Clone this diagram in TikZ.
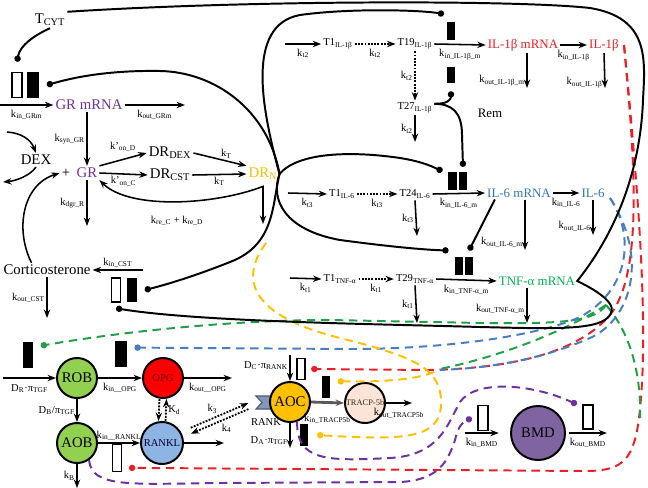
\documentclass[tikz,border=0pt]{standalone}
\usepackage{fontspec}
\setmainfont{Liberation Serif}
\usetikzlibrary{arrows,arrows.meta,calc,positioning}

\definecolor{grpurple}{RGB}{112,48,160}
\definecolor{drgold}{RGB}{246,190,0}
\definecolor{ilred}{RGB}{235,30,35}
\definecolor{ilblue}{RGB}{46,117,182}
\definecolor{tnfgreen}{RGB}{0,176,80}
\definecolor{obgreen}{RGB}{146,208,80}
\definecolor{opgred}{RGB}{250,0,0}
\definecolor{ranklblue}{RGB}{141,180,226}
\definecolor{aocgold}{RGB}{255,192,0}
\definecolor{trappeach}{RGB}{252,228,214}
\definecolor{bmdpurple}{RGB}{128,100,162}
\definecolor{rankgrey}{RGB}{132,151,186}
\definecolor{dashgreen}{RGB}{30,160,70}
\definecolor{dashblue}{RGB}{70,125,195}

\newcommand{\sbs}[1]{\textsubscript{#1}}
\newcommand{\bigf}{\fontsize{10.5}{12}\selectfont}
\newcommand{\midf}{\fontsize{9.2}{11}\selectfont}
\newcommand{\ratef}{\fontsize{7.5}{9}\selectfont}
\newcommand{\tinyf}{\fontsize{6}{7}\selectfont}

\begin{document}
\begin{tikzpicture}[x=0.025cm,y=-0.025cm,>={Stealth[length=6pt,width=4.5pt]},line width=1.1pt,
    big/.style={font=\bigf,inner sep=1pt},
    mid/.style={font=\midf,inner sep=1pt},
    rate/.style={font=\ratef,inner sep=1pt},
    cell/.style={circle,draw,line width=1.4pt,minimum size=1cm,inner sep=0pt,font=\bigf},
    wbox/.style={draw,line width=1pt,fill=white,minimum width=6pt,minimum height=18pt,inner sep=0pt},
    bbox/.style={fill=black,minimum width=8pt,minimum height=18pt,inner sep=0pt},
    inh/.style={line width=1.4pt,-{Circle[length=4.5pt]}},
    infl/.style={line width=1.4pt,dash pattern=on 6pt off 4pt,-{Circle[length=4.5pt]}},
    link/.style={line width=1.4pt,dash pattern=on 6pt off 4pt},
    dots/.style={->,densely dotted,line width=1.3pt}]
\useasboundingbox (0,0) rectangle (648,487);

% glucocorticoid part
\node[big] (tcyt) at (50,20) {T\sbs{CYT}};
\node[wbox,minimum width=7pt] (grmW) at (17,85) {};
\node[bbox,minimum width=8.5pt] (grmB) at (33,85) {};
\node[big,text=grpurple] (grm) at (89,105) {GR mRNA};
\node[big] (dex) at (36,160) {DEX};
\node[big] (plus) at (66,173) {+};
\node[big,text=grpurple] (gr) at (87,173) {GR};
\node[big] (drdex) at (170,153) {DR\sbs{DEX}};
\node[big] (drcst) at (170,175) {DR\sbs{CST}};
\node[big,text=drgold] (drn) at (263,174) {DR\sbs{N}};
\node[big] (cst) at (47,270) {Corticosterone};
\node[wbox,minimum width=6pt,minimum height=17pt] (cstW) at (116,290) {};
\node[bbox,minimum width=7pt,minimum height=17pt] (cstB) at (132,290) {};

\coordinate (grm_in) at (0,105);
\coordinate (grm_out) at (185,105);
\coordinate (gr_out) at (87,226);
\coordinate (drn_out) at (263,224);
\coordinate (dex_in) at (7,132);
\coordinate (dex_out) at (3,182);
\coordinate (cst_in) at (143,270);
\coordinate (cst_out) at (47,318);

\draw[->] (grm_in) -- node[rate,below=2pt] (l1) {k\sbs{in\_GRm}} (grm.west);
\draw[->] (grm.east) -- node[rate,below=2pt] (l2) {k\sbs{out\_GRm}} (grm_out);
\draw[->] (gr.north |- grm.south) -- node[rate,left] (l3) {k\sbs{syn\_GR}} (gr.north);
\draw[->] (gr.north east) -- node[rate,above=4pt] (l4) {k’\sbs{on\_D}} (drdex.west);
\draw[->] (gr.east) -- node[rate,below] (l5) {k’\sbs{on\_C}} (drcst.west);
\draw[->] (drdex.east) -- node[rate,above right=-1pt] (l6) {k\sbs{T}} (drn.north west);
\draw[->] (drcst.east) -- node[rate,below] (l7) {k\sbs{T}} (drn.west);
\draw[->] (gr.south) -- node[rate,left] (l8) {k\sbs{dgr\_R}} (gr_out);
\draw[<->] (gr.south east) .. controls (130,210) and (215,205) .. ([yshift=-3pt]drn.south) -- (drn_out);
\node[rate] (l9) at (177,221) {k\sbs{re\_C} + k\sbs{re\_D}};
\draw[->] (dex_in) .. controls (22,133) and (31,140) .. (dex.north);
\draw[->] (dex.south) .. controls (30,176) and (15,181) .. (dex_out);
\draw[->] ([xshift=-11pt]cst.north) .. controls (15,230) and (22,185) .. (plus.west);
\draw[->] (cst_in) -- node[rate,above] (l10) {k\sbs{in\_CST}} (cst.east);
\draw[->] (cst.south) -- node[rate,left] (l11) {k\sbs{out\_CST}} (cst_out);

% IL-1beta
\node[rate] (t1a) at (338,44) {T1\sbs{IL-1β}};
\node[rate] (t19) at (415,44) {T19\sbs{IL-1β}};
\node[rate] (t27) at (415,108) {T27\sbs{IL-1β}};
\node[mid,text=ilred] (il1m) at (523,45) {IL-1β mRNA};
\node[mid,text=ilred] (il1) at (604,45) {IL-1β};
\node[bbox,minimum width=5pt,minimum height=13pt] (il1U) at (451,31) {};
\node[bbox,minimum width=5pt,minimum height=12pt] (il1D) at (451,75) {};
\node[mid] (rem) at (490,113) {Rem};
\coordinate (il1_in) at (285,44);
\coordinate (t27_out) at (415,142);
\coordinate (il1m_out) at (527,88);
\coordinate (il1_out) at (605,88);

\draw[->] (il1_in) -- node[rate,below=2pt] (l12) {k\sbs{t2}} (t1a.west);
\draw[dots] (t1a.east) -- node[rate,below=2pt] (l13) {k\sbs{t2}} (t19.west);
\draw[->] (t19.east) -- node[rate,below=2pt] (l14) {k\sbs{in\_IL-1β\_m}} (il1m.west);
\draw[dots] (t19.south) -- node[rate,left] (l15) {k\sbs{t2}} (t27.north);
\draw[->] (t27.south) -- node[rate,left] (l16) {k\sbs{t2}} (t27_out);
\draw[->] (il1m.east) -- node[rate,below=2pt] (l17) {k\sbs{in\_IL-1β}} (il1.west);
\draw[->] (il1m.south -| il1m_out) -- node[rate,left,pos=0.8] (l18) {k\sbs{out\_IL-1β\_m}} (il1m_out);
\draw[->] (il1.south) -- node[rate,left,pos=0.85] (l19) {k\sbs{out\_IL-1β}} (il1_out);

% IL-6
\node[rate] (t1b) at (342,194) {T1\sbs{IL-6}};
\node[rate] (t24) at (415,194) {T24\sbs{IL-6}};
\node[mid,text=ilblue] (il6m) at (519,193) {IL-6 mRNA};
\node[mid,text=ilblue] (il6) at (593,193) {IL-6};
\node[bbox,minimum width=6.4pt,minimum height=13pt] (il6A) at (452,181) {};
\node[bbox,minimum width=6pt,minimum height=13pt] (il6B) at (463,181) {};
\coordinate (il6_in) at (288,193);
\coordinate (t24_out) at (417,236);
\coordinate (il6m_out) at (525,250);
\coordinate (il6_out) at (593,235);

\draw[->] (il6_in) -- node[rate,below=2pt] (l20) {k\sbs{t3}} (t1b.west);
\draw[dots] (t1b.east) -- node[rate,below=2pt] (l21) {k\sbs{t3}} (t24.west);
\draw[->] (t24.east) -- node[rate,below=2pt] (l22) {k\sbs{in\_IL-6\_m}} (il6m.west);
\draw[->] (t24.south) -- node[rate,left] (l23) {k\sbs{t3}} (t24_out);
\draw[->] (il6m.east) -- node[rate,below=2pt] (l24) {k\sbs{in\_IL-6}} (il6.west);
\draw[->] (il6m.south -| il6m_out) -- node[rate,left,pos=0.85] (l25) {k\sbs{out\_IL-6\_m}} (il6m_out);
\draw[->] (il6.south) -- node[rate,left,pos=0.75] (l26) {k\sbs{out\_IL-6}} (il6_out);

% TNF-alpha
\node[rate] (t1c) at (340,279) {T1\sbs{TNF-α}};
\node[rate] (t29) at (415,279) {T29\sbs{TNF-α}};
\node[mid,text=tnfgreen] (tnfm) at (537,281) {TNF-α mRNA};
\node[bbox,minimum width=5.7pt,minimum height=13pt] (tnfA) at (459,266) {};
\node[bbox,minimum width=5.7pt,minimum height=13pt] (tnfB) at (469,266) {};
\coordinate (tnf_in) at (290,278);
\coordinate (t29_out) at (417,323);
\coordinate (tnfm_out) at (527,323);

\draw[->] (tnf_in) -- node[rate,below=2pt] (l27) {k\sbs{t1}} (t1c.west);
\draw[dots] (t1c.east) -- node[rate,below=2pt] (l28) {k\sbs{t1}} (t29.west);
\draw[->] (t29.east) -- node[rate,below=2pt] (l29) {k\sbs{in\_TNF-α\_m}} (tnfm.west);
\draw[->] (t29.south) -- node[rate,left] (l30) {k\sbs{t1}} (t29_out);
\draw[->] (tnfm.south -| tnfm_out) -- node[rate,left,pos=0.6] (l31) {k\sbs{out\_TNF-α\_m}} (tnfm_out);

% bone part
\coordinate (rank) at (258,402);
\draw[fill=rankgrey,draw=rankgrey!60!black,line width=0.8pt] (256,396) -- (273,396) -- (273,409) -- (256,409) -- (262,402.5) -- cycle;
\node[cell,fill=obgreen] (rob) at (77,378) {ROB};
\node[cell,fill=opgred,text=black!55!red,font=\ratef] (opg) at (163,378) {OPG};
\node[cell,fill=obgreen] (aob) at (77,443) {AOB};
\node[cell,fill=ranklblue,text=black!80!blue,font=\ratef,minimum size=1.05cm] (rankl) at (162,443) {RANKL};
\node[cell,fill=aocgold] (aoc) at (290,402) {AOC};
\node[cell,fill=trappeach,text=black!70!brown,font=\tinyf] (trap) at (365,403) {TRACP-5b};
\node[cell,fill=bmdpurple,minimum size=1.35cm] (bmd) at (538,433) {BMD};
\node[rate] (ranklbl) at (266,422) {RANK};

\node[bbox,minimum width=7pt,minimum height=18pt] (robB) at (28,355) {};
\node[bbox,minimum width=8pt,minimum height=18pt] (opgB) at (121,354) {};
\node[wbox,minimum width=6pt,minimum height=19pt] (ranklW) at (117,458) {};
\node[wbox,minimum width=5.5pt,minimum height=15pt] (aocW) at (301,369) {};
\node[bbox,minimum width=5.5pt,minimum height=15pt] (aocB) at (304,435) {};
\node[bbox,minimum width=5.5pt,minimum height=15pt] (trapB) at (326,387) {};
\node[wbox,minimum width=7pt,minimum height=18pt] (bmdinW) at (483,418) {};
\node[wbox,minimum width=7pt,minimum height=17pt] (bmdoutW) at (588,417) {};

\coordinate (rob_in) at (3,378);
\coordinate (opg_out) at (232,378);
\coordinate (aob_out) at (77,488);
\coordinate (rankl_out) at (224,443);
\coordinate (aoc_in) at (290,355);
\coordinate (aoc_out) at (290,448);
\coordinate (trap_out) at (412,403);
\coordinate (bmd_in) at (465,433);
\coordinate (bmd_out) at (607,433);

\draw[->] (rob_in) -- node[rate,below=3pt] (l32) {D\sbs{R}·π\sbs{TGF}} (rob.west);
\draw[->] (rob.east) -- node[rate,below=2pt] (l33) {k\sbs{in\_\_OPG}} (opg.west);
\draw[->] (opg.east) -- node[rate,below=2pt] (l34) {k\sbs{out\_\_OPG}} (opg_out);
\draw[dots] ([xshift=-2.5pt]opg.south) -- ([xshift=-2.5pt]rankl.north);
\draw[dots] ([xshift=2.5pt]rankl.north) -- node[rate,right] (l35) {K\sbs{d}} ([xshift=2.5pt]opg.south);
\draw[->] (rob.south) -- node[rate,left] (l36) {D\sbs{B}/π\sbs{TGF}} (aob.north);
\draw[->] (aob.east) -- node[rate,above] (l37) {k\sbs{in\_\_RANKL}} (rankl.west);
\draw[->] (aob.south) -- node[rate,left] (l38) {k\sbs{B}} (aob_out);
\draw[->] (rankl.east) -- (rankl_out);
\draw[dots] ($(rankl)!0.3!(rank)+(0,-3)$) -- node[rate,above left] (l39) {k\sbs{3}} ($(rankl)!0.9!(rank)+(0,-3)$);
\draw[dots] ($(rankl)!0.9!(rank)+(0,3)$) -- node[rate,below right] (l40) {k\sbs{4}} ($(rankl)!0.3!(rank)+(0,3)$);
\draw[->] (aoc_in) -- node[rate,left,pos=0.4] (l41) {D\sbs{C}·π\sbs{RANK}} (aoc.north);
\draw[->] (aoc.south) -- node[rate,left,pos=0.7] (l42) {D\sbs{A}·π\sbs{TGF}} (aoc_out);
\draw[->,draw=black!65,line width=2pt] (aoc.east) -- node[rate,below=6pt] (l43) {k\sbs{in\_TRACP5b}} (trap.west);
\draw[->] (trap.east) -- node[rate,below=2pt] (l44) {k\sbs{out\_TRACP5b}} (trap_out);
\draw[->] (bmd_in) -- node[rate,below=2pt] (l45) {k\sbs{in\_BMD}} ([xshift=-8pt]bmd.west);
\draw[->] ([xshift=2pt]bmd.east) -- node[rate,below=2pt] (l46) {k\sbs{out\_BMD}} (bmd_out);

% cytokine and drug effects (dashed)
\coordinate (il1src) at (624,45);
\coordinate (il6src) at (610,198);
\coordinate (tnfsrc) at (606,305);
\coordinate (drnsrc) at (266,243);
\coordinate (ybranch) at (434,372);
\draw[infl,draw=ilred] (il1src) .. controls (634,150) and (652,330) .. (638,425) .. controls (632,462) and (620,471) .. (585,471) -- ([xshift=5pt,yshift=-7pt]ranklW.east);
\draw[infl,draw=ilred] (il1src) .. controls (636,170) and (642,275) .. (610,315) .. controls (580,350) and (520,368) .. (430,370) -- ([xshift=4pt]aocW.east);
\draw[infl,draw=dashgreen] (tnfsrc) .. controls (595,322) and (560,324) .. (480,323) -- (330,320) .. controls (230,320) and (120,332) .. ([xshift=5pt,yshift=-3pt]robB.north east);
\draw[link,draw=dashgreen] (tnfsrc) .. controls (580,322) and (520,352) .. (440,369);
\draw[link,draw=dashgreen] (tnfsrc) .. controls (628,330) and (642,370) .. (640,422);
\draw[infl,draw=dashblue] (il6src) .. controls (635,235) and (630,290) .. (580,317) .. controls (540,335) and (450,349) .. (350,349) -- ([xshift=5pt,yshift=-5pt]opgB.north east);
\draw[link,draw=dashblue] (il6src) .. controls (650,260) and (630,320) .. (590,338) .. controls (540,360) and (490,368) .. (440,370);
\draw[infl,draw=aocgold] (drnsrc) .. controls (235,285) and (260,318) .. (340,338) .. controls (420,358) and (442,370) .. (441,405) .. controls (440,440) and (400,440) .. ([xshift=6pt]aocB.east);
\draw[infl,draw=aocgold] (ybranch) .. controls (415,380) and (380,382) .. ([xshift=5pt,yshift=-4pt]trapB.north east);
\draw[infl,draw=grpurple] (aoc.-70) .. controls (296,462) and (330,461) .. (390,458) .. controls (440,455) and (447,425) .. (460,402) .. controls (475,380) and (530,383) .. ([xshift=-4pt]bmdoutW.north west);
\draw[infl,draw=grpurple] (aob.-55) .. controls (92,488) and (130,484) .. (220,483) -- (400,482) .. controls (440,480) and (448,460) .. (455,440) .. controls (458,426) and (463,422) .. ([xshift=-4pt]bmdinW.west);

% regulation lines (solid, ending in dots)
\draw[inh] (tcyt.south) .. controls (35,35) and (20,45) .. ([yshift=7pt]grmW.north);
\draw[inh] (tcyt.north east) .. controls (250,0) and (520,0) .. (590,8) .. controls (650,18) and (645,60) .. (643,100) .. controls (640,180) and (610,240) .. (tnfm.east) .. controls (600,292) and (618,305) .. (610,315) .. controls (600,330) and (560,329) .. (480,327) .. controls (380,324) and (200,322) .. ([yshift=-4pt]cstW.south);
\draw[inh] (drn.east) .. controls (268,110) and (215,72) .. (160,71) .. controls (100,70) and (65,80) .. ([xshift=5pt]grmB.east);
\draw[inh] (drn.east) .. controls (262,110) and (245,25) .. (300,15) .. controls (350,8) and (420,10) .. ([xshift=-5pt,yshift=5pt]il1U.north);
\draw[inh] (drn.east) .. controls (300,150) and (360,152) .. (400,158) .. controls (425,162) and (435,168) .. ([xshift=-3pt]il6A.north west);
\draw[inh] (drn.east) .. controls (270,200) and (285,230) .. (340,240) .. controls (400,248) and (430,250) .. ([xshift=-4pt,yshift=4pt]tnfA.north west);
\draw[inh] (drn.east) .. controls (272,205) and (275,245) .. (230,262) .. controls (195,276) and (165,285) .. ([xshift=5pt]cstB.east);
\draw[inh] ([xshift=7pt]il6m.south west) -- ([yshift=4pt]tnfB.north);
\draw[inh] ([yshift=3pt]t27.east) .. controls (447,104) and (451,100) .. ([yshift=-5pt]il1D.south);
\draw[inh] ([yshift=3pt]t27.east) .. controls (452,104) and (462,112) .. (462,135) -- ([yshift=3pt]il6B.north);
\end{tikzpicture}
\end{document}
